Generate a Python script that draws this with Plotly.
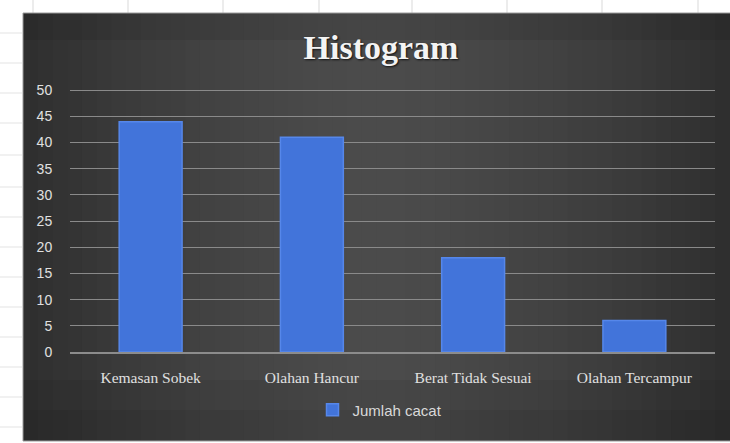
import plotly.graph_objects as go

categories = ["Kemasan Sobek", "Olahan Hancur", "Berat Tidak Sesuai", "Olahan Tercampur"]
jumlah_cacat = [44, 41, 18, 6]
series_name = "Jumlah cacat"
title_text = "Histogram"
y_ticks = [0, 5, 10, 15, 20, 25, 30, 35, 40, 45, 50]

W, H = 730, 443
L, R, T, B = 70, 15, 85, 91
pw, ph = W - L - R, H - T - B


def px(x):
    return (x - L) / pw


def py(y):
    return (H - B - y) / ph


shapes = []
# spreadsheet grid lines in the white page area
for gx in [33, 128, 223, 319, 412, 507, 602, 698]:
    shapes.append(dict(type="line", xref="paper", yref="paper", x0=px(gx), x1=px(gx),
                       y0=py(0), y1=py(13), line=dict(color="#d9d9d9", width=1), layer="below"))
for gy in [33, 63, 93, 123, 155, 187, 217, 247, 277, 307, 337, 367, 397, 427]:
    shapes.append(dict(type="line", xref="paper", yref="paper", x0=px(0), x1=px(22),
                       y0=py(gy), y1=py(gy), line=dict(color="#e3e3e3", width=1), layer="below"))

# dark chart area with a horizontal gradient (darker edges, lighter centre)
x_left, x_right, y_top, y_bot = 23, 730, 13, 441
n = 48
cx = (x_left + x_right) / 2
for i in range(n):
    a = x_left + (x_right - x_left) * i / n
    b = x_left + (x_right - x_left) * (i + 1) / n
    m = (a + b) / 2
    d = abs(m - cx) / (cx - x_left)
    v = int(round(0x4b - (0x4b - 0x2e) * d ** 1.6))
    col = "#%02x%02x%02x" % (v, v, v)
    shapes.append(dict(type="rect", xref="paper", yref="paper", x0=px(a), x1=px(b) + 0.002,
                       y0=py(y_bot), y1=py(y_top), fillcolor=col, line=dict(width=0), layer="below"))
# slight vertical darkening toward bottom and top
for a, b, op in [(13, 40, 0.08), (380, 410, 0.06), (410, 441, 0.12)]:
    shapes.append(dict(type="rect", xref="paper", yref="paper", x0=px(x_left), x1=px(x_right),
                       y0=py(b), y1=py(a), fillcolor="black", opacity=op, line=dict(width=0), layer="below"))
shapes.append(dict(type="rect", xref="paper", yref="paper", x0=px(x_left), x1=px(x_right) + 0.01,
                   y0=py(y_bot), y1=py(y_top), line=dict(color="#9a9a9a", width=1), layer="below"))

fig = go.Figure()
fig.add_trace(go.Bar(
    x=categories, y=jumlah_cacat, name=series_name,
    marker=dict(color="#4274da", line=dict(color="#5687ea", width=1.5)),
    width=0.39,
))

fig.update_layout(
    width=W, height=H,
    margin=dict(l=L, r=R, t=T, b=B),
    paper_bgcolor="white",
    plot_bgcolor="rgba(0,0,0,0)",
    shapes=shapes,
    showlegend=True,
    title=dict(text="<b>" + title_text + "</b>", xref="container", x=381 / W, xanchor="center",
               y=1 - 47 / H, yanchor="middle",
               font=dict(family="Liberation Serif", size=34, color="#f4f4f4",
                         shadow="1px 1px 2px #111")),
    legend=dict(orientation="h", x=px(380), xanchor="center", y=py(410), yanchor="middle",
                font=dict(family="Liberation Sans Narrow, Liberation Sans", size=15, color="#d9d9d9"),
                bgcolor="rgba(0,0,0,0)", itemwidth=30),
    xaxis=dict(showgrid=False, showline=True, linecolor="#8c8c8c", linewidth=1.5,
               tickfont=dict(family="Liberation Serif", size=15.5, color="#e0e0e0"),
               ticks="outside", ticklen=11, tickcolor="rgba(0,0,0,0)", fixedrange=True),
    yaxis=dict(range=[0, 51], tickvals=y_ticks, showgrid=True, gridcolor="#8a8a8a", gridwidth=1.2,
               zeroline=False, showline=False,
               tickfont=dict(family="Liberation Sans Narrow, Liberation Sans", size=14, color="#e0e0e0"),
               ticks="outside", ticklen=14, tickcolor="rgba(0,0,0,0)", fixedrange=True),
    bargap=0.61,
)

fig.write_html("out.html")
